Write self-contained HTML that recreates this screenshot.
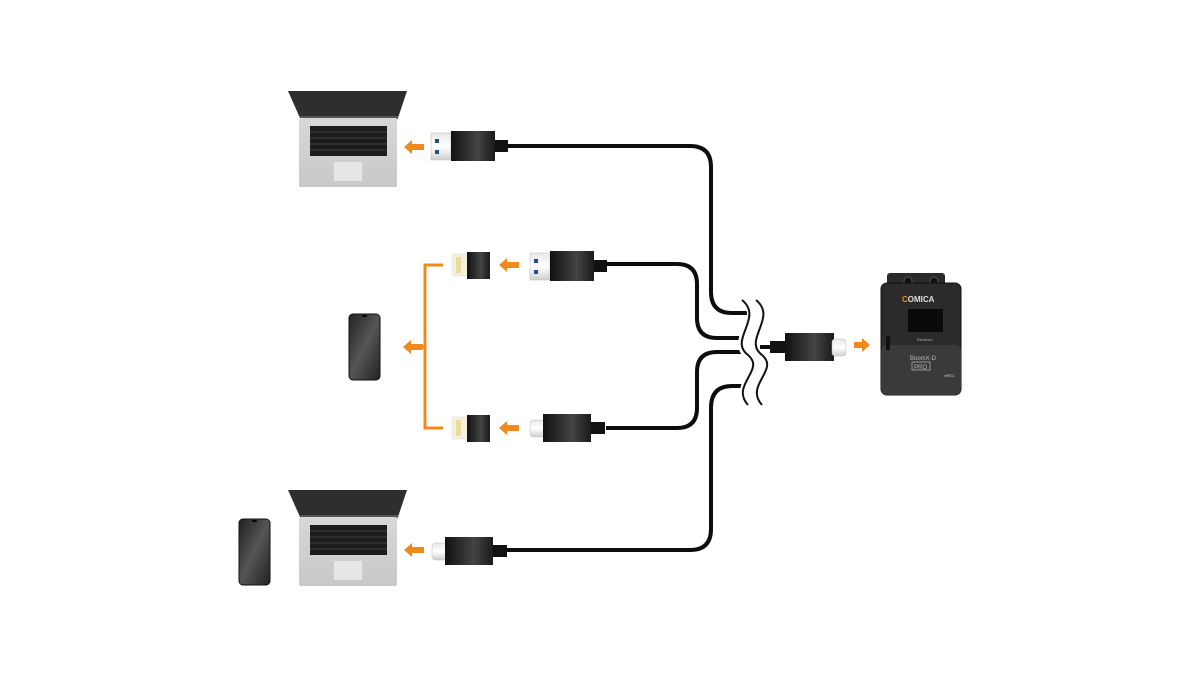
<!DOCTYPE html>
<html><head><meta charset="utf-8"><style>
html,body{margin:0;padding:0;background:#fff;}
svg{display:block;}
</style></head><body>
<svg width="1200" height="675" viewBox="0 0 1200 675" xmlns="http://www.w3.org/2000/svg">
<defs>
<linearGradient id="body" x1="0" y1="0" x2="0" y2="1">
<stop offset="0" stop-color="#3a3a3a"/><stop offset="0.5" stop-color="#111"/><stop offset="1" stop-color="#2a2a2a"/>
</linearGradient>
<linearGradient id="bodyh" x1="0" y1="0" x2="1" y2="0">
<stop offset="0" stop-color="#111"/><stop offset="0.6" stop-color="#444"/><stop offset="1" stop-color="#1a1a1a"/>
</linearGradient>
<linearGradient id="metal" x1="0" y1="0" x2="0" y2="1">
<stop offset="0" stop-color="#e8e8e8"/><stop offset="0.5" stop-color="#fff"/><stop offset="1" stop-color="#cfcfcf"/>
</linearGradient>
<linearGradient id="phone" x1="0" y1="0" x2="1" y2="1">
<stop offset="0" stop-color="#222"/><stop offset="0.5" stop-color="#555"/><stop offset="1" stop-color="#222"/>
</linearGradient>
<linearGradient id="base" x1="0" y1="0" x2="0" y2="1">
<stop offset="0" stop-color="#d8d8d8"/><stop offset="1" stop-color="#c8c8c8"/>
</linearGradient>
<g id="laptop">
<polygon points="288,91 407,91 398,118 300,118" fill="#2e2e2e"/>
<rect x="300" y="116" width="98" height="3" fill="#555"/>
<rect x="299" y="118" width="98" height="69" rx="2" fill="url(#base)"/>
<rect x="310" y="126" width="77" height="30" fill="#1c1c1c"/>
<g stroke="#666" stroke-width="0.6">
<line x1="310" y1="132" x2="387" y2="132"/><line x1="310" y1="138" x2="387" y2="138"/><line x1="310" y1="144" x2="387" y2="144"/><line x1="310" y1="150" x2="387" y2="150"/>
</g>
<rect x="334" y="162" width="28" height="19" fill="#e6e6e6"/>
</g>
<g id="phn"><rect x="0" y="0" width="31" height="66" rx="4" fill="url(#phone)" stroke="#111"/><rect x="13" y="1" width="5" height="2" rx="1" fill="#000"/></g>
<g id="usba">
<rect x="0" y="2" width="20" height="27" fill="url(#metal)" stroke="#bbb" stroke-width="0.5"/>
<rect x="4" y="8" width="4" height="4" fill="#2a4a8a"/><rect x="4" y="19" width="4" height="4" fill="#2a4a8a"/>
<rect x="20" y="0" width="44" height="30" fill="url(#bodyh)"/>
<rect x="64" y="9" width="13" height="12" fill="#111"/>
</g>
<g id="typec">
<rect x="0" y="6" width="14" height="17" rx="3" fill="url(#metal)" stroke="#bbb" stroke-width="0.5"/>
<rect x="13" y="0" width="48" height="28" fill="url(#bodyh)"/>
<rect x="61" y="8" width="14" height="12" fill="#111"/>
</g>
<g id="light">
<rect x="0" y="2" width="16" height="22" rx="2" fill="#f4f0dc" stroke="#ddd" stroke-width="0.5"/>
<rect x="4" y="5" width="5" height="16" fill="#e8dca0"/>
<rect x="15" y="0" width="23" height="27" fill="url(#bodyh)"/>
</g>
<g id="arr"><polygon points="0,0 8,-7 8,-3 20,-3 20,3 8,3 8,7" fill="#f08a1c"/></g>
</defs>

<use href="#laptop"/>
<use href="#laptop" transform="translate(0,399)"/>
<use href="#phn" transform="translate(349,314)"/>
<use href="#phn" transform="translate(239,519)"/>

<!-- cables -->
<g fill="none" stroke="#0d0d0d" stroke-width="4">
<path d="M508,146 H690 Q711,146 711,167 V292 Q711,313 732,313 H752"/>
<path d="M606,264 H677 Q697,264 697,284 V318 Q697,338 717,338 H750"/>
<path d="M606,428 H677 Q697,428 697,408 V372 Q697,352 717,352 H750"/>
<path d="M506,550 H690 Q711,550 711,529 V408 Q711,386 732,386 H752"/>
<path d="M760,347 H786"/>
</g>
<!-- break waves -->
<path d="M746,298 C770,318 730,340 752,355 C770,370 734,385 752,405" fill="none" stroke="#fff" stroke-width="14"/>
<path d="M742,300 C764,318 728,340 748,355 C766,370 730,385 748,405" fill="none" stroke="#111" stroke-width="2"/>
<path d="M756,300 C778,318 742,340 762,355 C780,370 744,385 762,405" fill="none" stroke="#111" stroke-width="2"/>
<path d="M763,347 H786" stroke="#0d0d0d" stroke-width="4"/>
<rect x="770" y="341" width="16" height="12" fill="#111"/>
<rect x="785" y="333" width="49" height="28" fill="url(#bodyh)"/>
<rect x="832" y="339" width="14" height="17" rx="3" fill="url(#metal)" stroke="#bbb" stroke-width="0.5"/>

<use href="#usba" transform="translate(431,131)"/>
<use href="#usba" transform="translate(530,251)"/>
<use href="#typec" transform="translate(530,414)"/>
<use href="#typec" transform="translate(432,537)"/>
<use href="#light" transform="translate(452,252)"/>
<use href="#light" transform="translate(452,415)"/>

<!-- arrows -->
<use href="#arr" transform="translate(404,147)"/>
<use href="#arr" transform="translate(499,265)"/>
<use href="#arr" transform="translate(499,428)"/>
<use href="#arr" transform="translate(403,347)"/>
<use href="#arr" transform="translate(404,550)"/>
<polygon points="870,345 862,338 862,342 854,342 854,348 862,348 862,352" fill="#f08a1c"/>
<path d="M443,265 H425 V428 H443 M425,347 H415" fill="none" stroke="#f08a1c" stroke-width="3"/>

<!-- device -->
<rect x="887" y="273" width="58" height="12" rx="3" fill="#2a2a2a"/>
<circle cx="908" cy="281" r="4" fill="#111" stroke="#555"/><circle cx="934" cy="281" r="4" fill="#111" stroke="#555"/>
<rect x="881" y="283" width="80" height="112" rx="6" fill="#2b2b2b" stroke="#111"/>
<rect x="881" y="345" width="80" height="50" rx="6" fill="#3a3a3a"/>
<text x="902" y="302" font-family="Liberation Sans,sans-serif" font-size="8" fill="#f08a1c" font-weight="bold">C<tspan fill="#ddd">OMICA</tspan></text>
<rect x="908" y="309" width="35" height="23" fill="#0a0a0a"/>
<text x="917" y="341" font-family="Liberation Sans,sans-serif" font-size="4" fill="#aaa">Receiver</text>
<text x="910" y="360" font-family="Liberation Sans,sans-serif" font-size="6" fill="#bbb">BoomX-D</text>
<rect x="912" y="362" width="18" height="8" fill="none" stroke="#bbb" stroke-width="0.7"/>
<text x="914" y="369" font-family="Liberation Sans,sans-serif" font-size="6" fill="#bbb">PRO</text>
<text x="944" y="377" font-family="Liberation Sans,sans-serif" font-size="4" fill="#ccc"><tspan fill="#f08a1c">●</tspan>REC</text>
<rect x="886" y="336" width="4" height="14" fill="#111"/>
</svg>
</body></html>
